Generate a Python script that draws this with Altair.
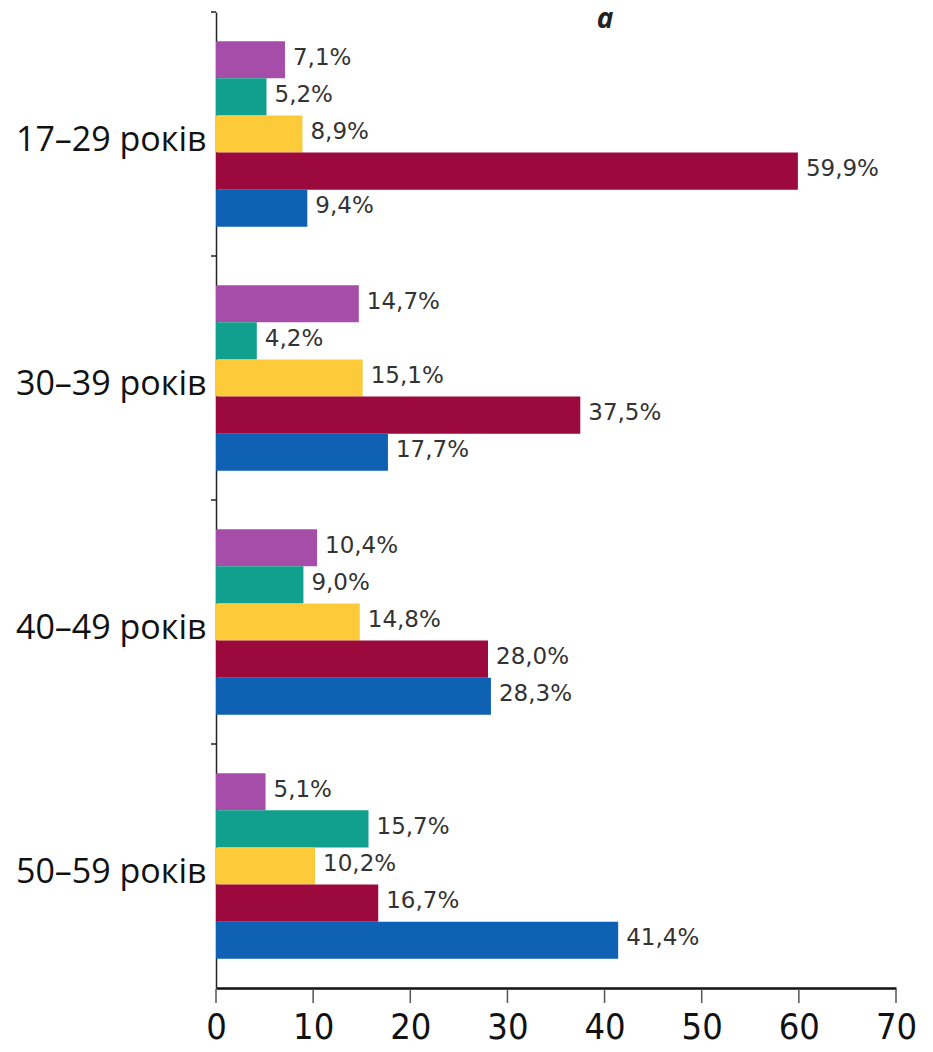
import altair as alt
import pandas as pd

groups = ["17–29 років", "30–39 років", "40–49 років", "50–59 років"]
series = ["s1", "s2", "s3", "s4", "s5"]
colors = ["#A54DA8", "#12A08E", "#FDCB3A", "#9C0A3D", "#0F62B3"]
values = [
    [7.1, 5.2, 8.9, 59.9, 9.4],
    [14.7, 4.2, 15.1, 37.5, 17.7],
    [10.4, 9.0, 14.8, 28.0, 28.3],
    [5.1, 15.7, 10.2, 16.7, 41.4],
]
x_ticks = [0, 10, 20, 30, 40, 50, 60, 70]

rows = []
for g, vals in zip(groups, values):
    for s, v in zip(series, vals):
        rows.append({"group": g, "series": s, "value": v,
                     "label": f"{v:.1f}".replace(".", ",") + "%"})
df = pd.DataFrame(rows)
gdf = pd.DataFrame({"group": groups})
tdf = pd.DataFrame({"tick": x_ticks})

band_scale = alt.Scale(paddingInner=0.24, paddingOuter=0.12)
x_scale = alt.Scale(domain=[0, 70], nice=False)
y_enc = alt.Y("group:N", sort=groups, title=None, scale=band_scale,
              axis=alt.Axis(domainColor="#222", domainWidth=1.5, ticks=False,
                            labelFontSize=34, labelFont="Open Sans", labelColor="#111",
                            labelPadding=10, labelLimit=400, labelOffset=7, grid=False))
yoff = alt.YOffset("series:N", sort=series,
                   scale=alt.Scale(paddingInner=0, paddingOuter=0))
x_axis = alt.Axis(values=x_ticks, domainColor="#111", domainWidth=2.5,
                  ticks=False, labelFlush=False, labelFontSize=36,
                  labelFont="DejaVu Sans Condensed, Roboto, sans-serif",
                  labelColor="#111", labelPadding=22, grid=False)
x_enc = alt.X("value:Q", title=None, scale=x_scale, axis=x_axis)

bars = alt.Chart(df).mark_bar().encode(
    y=y_enc, yOffset=yoff, x=x_enc,
    color=alt.Color("series:N", sort=series,
                    scale=alt.Scale(domain=series, range=colors), legend=None),
)
labels = alt.Chart(df).mark_text(align="left", baseline="middle", dx=8, dy=-2,
                                 fontSize=23, font="DejaVu Sans", color="#333").encode(
    y=alt.Y("group:N", sort=groups, scale=band_scale, axis=None), yOffset=yoff,
    x=x_enc, text="label:N",
)

group_ticks = alt.Chart(gdf).mark_rule(color="#222", strokeWidth=1.5).encode(
    y=alt.Y("group:N", sort=groups, bandPosition=0,
            scale=alt.Scale(paddingInner=0, paddingOuter=0), axis=None),
    x=alt.value(-5), x2=alt.value(0),
)

x_tick_marks = alt.Chart(tdf).mark_rule(color="#555", strokeWidth=1.5).encode(
    x=alt.X("tick:Q", scale=x_scale, axis=x_axis, title=None),
    y=alt.value(977), y2=alt.value(991),
)

title_a = alt.Chart(pd.DataFrame({"t": ["а"]})).mark_text(
    fontSize=28, fontStyle="italic", fontWeight="bold", font="Open Sans",
    color="#222", baseline="alphabetic", align="center").encode(
    x=alt.value(389), y=alt.value(16), text="t:N")

chart = alt.layer(bars, labels, group_ticks, x_tick_marks, title_a).resolve_scale(
    y="independent").properties(
    width=680, height=976, autosize="none",
    padding={"left": 208, "top": 4, "right": 29, "bottom": 64},
).configure_view(stroke=None)

chart.save("out.html", embed_options={"renderer": "svg", "actions": False})
